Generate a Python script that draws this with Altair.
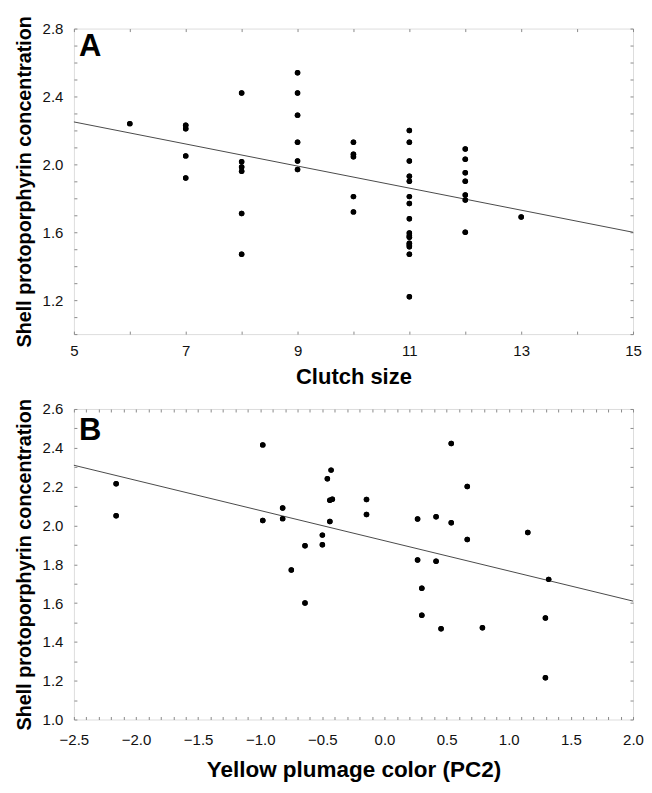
import altair as alt
import pandas as pd

FONT = "Liberation Sans"

# ---------------- Panel A data ----------------
a_clutch = [6,
            7, 7, 7, 7,
            8, 8, 8, 8, 8, 8,
            9, 9, 9, 9, 9, 9,
            10, 10, 10, 10, 10,
            11, 11, 11, 11, 11, 11, 11, 11, 11, 11, 11, 11, 11, 11, 11, 11,
            12, 12, 12, 12, 12, 12, 12,
            13]
a_conc = [2.24,
          2.23, 2.21, 2.05, 1.92,
          2.42, 2.015, 1.985, 1.96, 1.71, 1.47,
          2.54, 2.42, 2.29, 2.13, 2.02, 1.97,
          2.13, 2.06, 2.045, 1.81, 1.72,
          2.20, 2.13, 2.02, 1.93, 1.90, 1.81, 1.77, 1.68, 1.595, 1.58, 1.57, 1.535, 1.525, 1.515, 1.47, 1.22,
          2.09, 2.03, 1.95, 1.90, 1.82, 1.79, 1.60,
          1.69]
a_line_x = [5, 15]
a_line_y = [2.25, 1.60]

# ---------------- Panel B data ----------------
b_pc2 = [-2.16, -2.16, -0.98, -0.98, -0.82, -0.82, -0.75, -0.64, -0.64, -0.50,
         -0.50, -0.46, -0.43, -0.44, -0.42, -0.44, -0.145, -0.145, 0.266, 0.415,
         0.537, 0.537, 0.666, 0.666, 1.153, 0.266, 0.415, 0.30, 0.30, 0.455,
         0.788, 1.321, 1.295, 1.295]
b_conc = [2.215, 2.05, 2.415, 2.025, 2.09, 2.035, 1.77, 1.895, 1.60, 1.95,
          1.90, 2.24, 2.285, 2.13, 2.135, 2.02, 2.133, 2.056, 2.033, 2.045,
          2.014, 2.422, 2.20, 1.927, 1.964, 1.822, 1.815, 1.676, 1.537, 1.468,
          1.473, 1.722, 1.523, 1.215]
b_line_x = [-2.5, 2.0]
b_line_y = [2.31, 1.61]

# tick labels
a_xlabels = [5, 7, 9, 11, 13, 15]
a_ylabels = [1.2, 1.6, 2.0, 2.4, 2.8]
a_xticks = [5, 6, 7, 8, 9, 10, 11, 12, 13, 14, 15]
a_yticks = [round(1.0 + 0.1 * i, 1) for i in range(19)]
b_xlabels = [-2.5, -2.0, -1.5, -1.0, -0.5, 0.0, 0.5, 1.0, 1.5, 2.0]
b_ylabels = [1.0, 1.2, 1.4, 1.6, 1.8, 2.0, 2.2, 2.4, 2.6]
b_xticks = [round(-2.5 + 0.1 * i, 1) for i in range(46)]
b_yticks = [round(1.0 + 0.1 * i, 1) for i in range(17)]

W = 560
HA = 306
HB = 311

YTITLE = "Shell protoporphyrin concentration"


def panel(xs_vals, ys_vals, lx, ly, xdom, ydom, xlabels, ylabels, xticks, yticks,
          xfmt, yfmt, xtitle, xtitle_size, letter, w, h, x_label_pad, x_title_pad,
          letter_y):
    df = pd.DataFrame({"x": xs_vals, "y": ys_vals})
    ldf = pd.DataFrame({"x": lx, "y": ly})
    xs = alt.Scale(domain=xdom, nice=False, zero=False)
    ys = alt.Scale(domain=ydom, nice=False, zero=False)
    tick_ax = dict(labels=False, domain=False, grid=False, title=None,
                   tickSize=3, tickColor="#8a8a8a", tickWidth=1)
    pts = alt.Chart(df).mark_circle(size=30, color="black", opacity=1).encode(
        x=alt.X("x:Q", scale=xs, axis=alt.Axis(
            values=xlabels, format=xfmt, orient="bottom", title=xtitle,
            labelExpr="replace(datum.label, '-', '\u2212')",
            grid=False, ticks=False, domain=False, labelFont=FONT, labelFontSize=15,
            labelColor="#111", labelPadding=x_label_pad, titleFont=FONT,
            titleFontSize=xtitle_size, titleFontWeight="bold", titleColor="#000",
            titlePadding=x_title_pad, labelFlush=False)),
        y=alt.Y("y:Q", scale=ys, axis=alt.Axis(
            values=ylabels, format=yfmt, orient="left", title=YTITLE,
            grid=False, ticks=False, domain=False, labelFont=FONT, labelFontSize=15,
            labelColor="#111", labelPadding=11, titleFont=FONT, titleFontSize=19.8,
            titleFontWeight="bold", titleColor="#000", titlePadding=8,
            labelFlush=False)),
    )
    line = alt.Chart(ldf).mark_line(color="#4a4a4a", strokeWidth=1).encode(
        x=alt.X("x:Q", scale=xs, axis=alt.Axis(values=xticks, orient="top", offset=-h, **tick_ax)),
        y=alt.Y("y:Q", scale=ys, axis=alt.Axis(values=yticks, orient="right", offset=-w, **tick_ax)),
    )
    pts2 = alt.Chart(df).mark_circle(size=30, color="black", opacity=1).encode(
        x=alt.X("x:Q", scale=xs, axis=alt.Axis(values=xticks, orient="bottom", offset=-h, **tick_ax)),
        y=alt.Y("y:Q", scale=ys, axis=alt.Axis(values=yticks, orient="left", offset=-w, **tick_ax)),
    )
    lab = alt.Chart(pd.DataFrame({"t": [letter]})).mark_text(
        font=FONT, fontSize=31, fontWeight="bold", align="left", baseline="top",
        color="#000").encode(text="t:N", x=alt.value(5), y=alt.value(letter_y))
    return alt.layer(pts, line, pts2, lab).resolve_axis(
        x="independent", y="independent").properties(width=w, height=h)


pA = panel(a_clutch, a_conc, a_line_x, a_line_y, [5, 15], [1.0, 2.8],
           a_xlabels, a_ylabels, a_xticks, a_yticks, "d", ".1f",
           "Clutch size", 22, "A", W, HA, 9, 8, 3)
pB = panel(b_pc2, b_conc, b_line_x, b_line_y, [-2.5, 2.0], [1.0, 2.6],
           b_xlabels, b_ylabels, b_xticks, b_yticks, ".1f", ".1f",
           "Yellow plumage color (PC2)", 22.5, "B", W, HB, 13, 11, 7)

chart = alt.vconcat(pA, pB, spacing=10).properties(
    padding={"left": 5, "top": 6, "right": 0, "bottom": 0}
).configure_view(stroke="#8a8a8a", strokeWidth=1).configure(background="white")

chart.save("out.html", embed_options={"renderer": "svg", "actions": False})
